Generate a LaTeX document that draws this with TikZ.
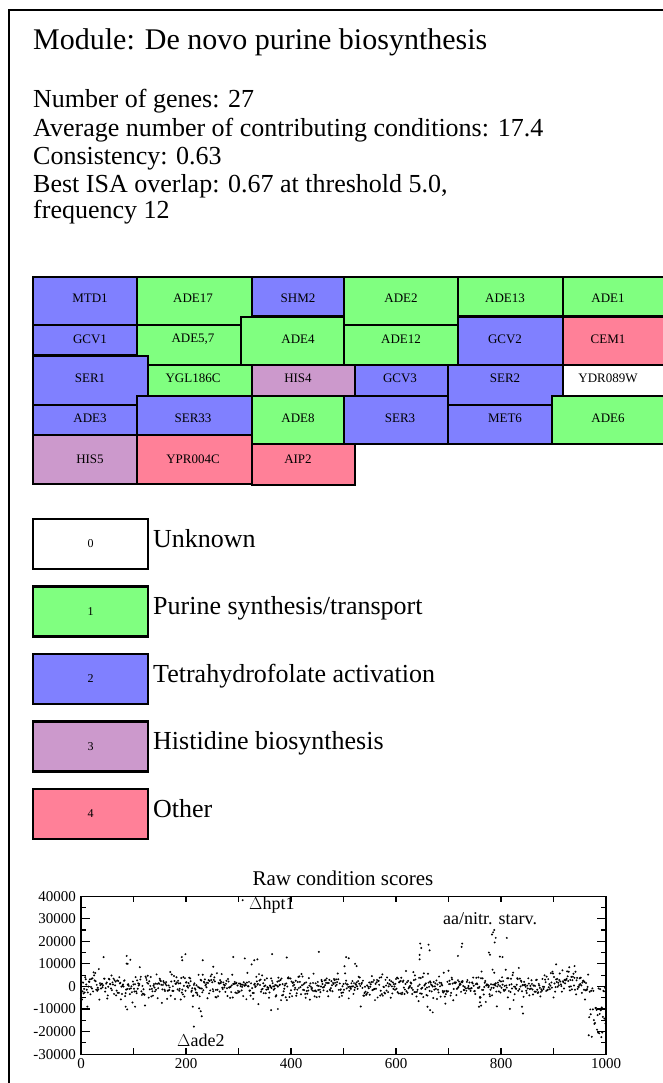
\documentclass[tikz,border=0pt]{standalone}
\usepackage{fontspec}
\setmainfont{Liberation Serif}
\definecolor{purine}{RGB}{128,255,128}
\definecolor{thf}{RGB}{128,128,255}
\definecolor{histidine}{RGB}{204,153,204}
\definecolor{other}{RGB}{255,128,152}

\begin{document}
\begin{tikzpicture}[x=1pt, y=-1pt,
    gene/.style={draw=black, line width=2.3pt},
    genelabel/.style={font=\fontsize{13}{15}\selectfont, inner sep=0pt},
    key/.style={draw=black, line width=2.3pt, minimum width=115pt, minimum height=50pt, font=\fontsize{12}{14}\selectfont, inner sep=0pt},
    keytext/.style={font=\fontsize{26}{30}\selectfont, anchor=base west, inner sep=0pt},
    info/.style={font=\fontsize{26}{30}\selectfont, anchor=base west, inner sep=0pt},
    ticklabel/.style={font=\fontsize{15}{17}\selectfont, inner sep=0pt},
    note/.style={font=\fontsize{18}{20}\selectfont, inner sep=0pt},
    plotline/.style={line width=1.1pt}
]
\useasboundingbox (0,0) rectangle (662,1083);

% Frame
\draw[line width=2.5pt] (9,10) rectangle (700,1100);

% Header
\node[font=\fontsize{30}{34}\selectfont, anchor=base west, inner sep=0pt] (title) at (33,50) {Module: De novo purine biosynthesis};
\node[info] (ngenes) at (33,108) {Number of genes: 27};
\node[info] (avgcond) at (33,137) {Average number of contributing conditions: 17.4};
\node[info] (consist) at (33,165) {Consistency: 0.63};
\node[info] (overlap) at (33,193) {Best ISA overlap: 0.67 at threshold 5.0,};
\node[info] (freq) at (33,219) {frequency 12};

% Gene boxes
\foreach \lab/\c/\xa/\ya/\xb/\yb/\tx/\ty [count=\k] in {
    MTD1/thf/33/277/137/325/90/298,
    ADE17/purine/137/277/252/325/193/298,
    SHM2/thf/252/277/344/316/298/298,
    ADE2/purine/344/277/458/325/401/298,
    ADE13/purine/458/277/563/316/505/298,
    ADE1/purine/563/277/690/316/608/298,
    GCV1/thf/33/325/137/355/90/339,
    {ADE5,7}/purine/137/325/241/365/193/339,
    ADE4/purine/241/317/344/365/298/339,
    ADE12/purine/344/325/458/365/401/339,
    GCV2/thf/458/317/563/365/505/339,
    CEM1/other/563/317/690/365/608/339,
    SER1/thf/33/356/148/405/90/378,
    YGL186C/purine/148/365/252/396/193/378,
    HIS4/histidine/252/365/355/396/298/378,
    GCV3/thf/355/365/448/396/400/378,
    SER2/thf/448/365/563/405/505/378,
    YDR089W/white/563/365/690/396/608/378,
    ADE3/thf/33/405/137/435/90/418,
    SER33/thf/137/396/252/435/193/418,
    ADE8/purine/252/396/344/444/298/418,
    SER3/thf/344/396/448/444/400/418,
    MET6/thf/448/405/552/444/505/418,
    ADE6/purine/552/396/690/444/608/418,
    HIS5/histidine/33/435/137/484/90/459,
    YPR004C/other/137/435/252/484/193/459,
    AIP2/other/252/444/355/485/298/459} {
    \draw[gene, fill=\c] (\xa,\ya) rectangle (\xb,\yb);
    \node[genelabel] (g\k) at (\tx,\ty) {\lab};
}

% Legend
\foreach \n/\c/\t in {0/white/Unknown, 1/purine/{Purine synthesis/transport}, 2/thf/Tetrahydrofolate activation, 3/histidine/Histidine biosynthesis, 4/other/Other} {
    \node[key, fill=\c] (key\n) at (90.5,{544+67.5*\n}) {\n};
    \node[keytext] (keytext\n) at (153,{547+67.5*\n}) {\t};
}

% Raw condition scores
\node[font=\fontsize{21}{24}\selectfont, inner sep=0pt] (plottitle) at (343,878) {Raw condition scores};
\begin{scope}[shift={(81,986.4)}, x=0.525pt, y=2.257pt]
    \pgfmathsetseed{4271}
    \foreach \i in {0,...,999} {
        \pgfmathsetmacro\yv{ifthenelse(\i>966, ifthenelse(rnd<0.6, -9-14*rnd, -3*rnd), 2.6*(rand+rand+rand)+ifthenelse(rnd<0.1, 7*rand, 0)+ifthenelse(\i>895 && \i<960, 2, 0))}
        \fill (\i,\yv) circle[radius=1.1pt];
    }
    % outliers
    \foreach \px/\py in {87/13.5, 89/10, 85/-9, 88/-10.2, 103/-9, 192/13, 193/11.6, 199/14.3, 232/11.6, 213/-9, 225/-9.7,
        228/-11, 230/-13.2, 215/-17.8, 252/8.7, 290/13, 312/12.4, 308/38.2, 330/11.6, 336/12, 364/14.3, 392/12.8, 375/-10,
        362/-10.5, 453/15.3, 522/10, 525/9, 505/13, 510/12.5, 646/19, 648/17, 645/14, 645/12, 662/18.5, 664/16, 660/-9,
        665/-10.5, 670/-11.5, 725/17.5, 726/19, 718/13.5, 760/-5, 760/-7, 762/-8.5, 758/-9, 785/24, 787/25, 783/23,
        790/21.5, 788/19.5, 777/15, 779/14, 798/13.2, 803/13, 811/21.5, 840/-9, 842/-12, 905/9.8, 940/9, 930/8.5}
        \fill (\px,\py) circle[radius=1.1pt];
    % axes
    \draw[plotline] (0,-30) rectangle (1000,40);
    \foreach \v in {100,200,...,900}
        \draw[plotline] (\v,-30) -- ++(0pt,6pt) (\v,40) -- ++(0pt,-6pt);
    \foreach \v in {-25,-20,...,35} {
        \pgfmathsetmacro\tl{ifthenelse(mod(\v,10)==0, 9, 5)}
        \draw[plotline] (0,\v) -- ++(\tl pt,0pt) (1000,\v) -- ++(-\tl pt,0pt);
    }
    \foreach \v in {-30,-20,...,40}
        \node[ticklabel, anchor=east, xshift=-5pt] (yl\v) at (0,\v) {\ifnum\v=0 0\else\v000\fi};
    \foreach \v in {0,200,...,1000}
        \node[ticklabel, anchor=north, yshift=-4pt] (xl\v) at (\v,-30) {\v};
\end{scope}
\node[note, anchor=west] (hpt) at (249,905) {$\Delta$hpt1};
\node[note, anchor=west] (starv) at (443,919) {aa/nitr. starv.};
\node[note, anchor=west] (ade) at (177,1040) {$\Delta$ade2};

\end{tikzpicture}
\end{document}
